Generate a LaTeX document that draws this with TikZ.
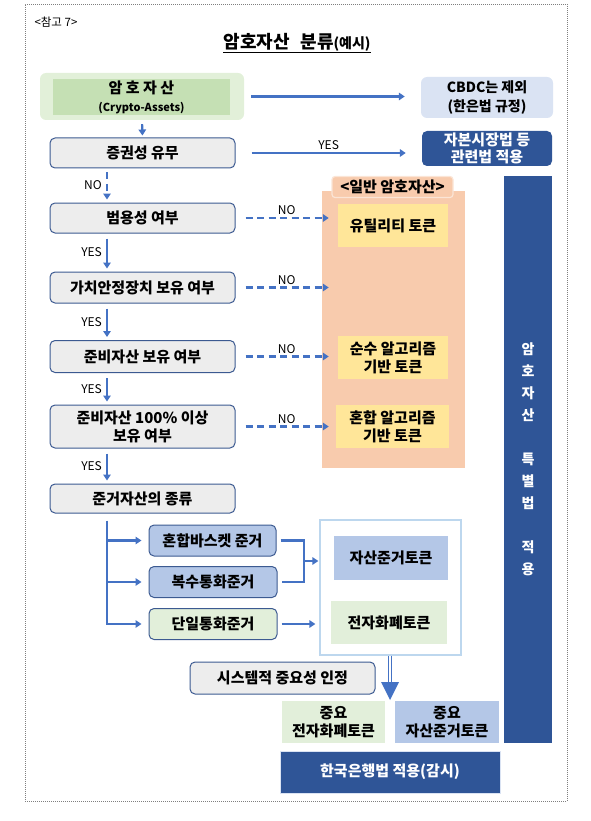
\documentclass[tikz,border=0pt]{standalone}
\usepackage{fontspec}
\setmainfont{Noto Sans CJK KR}
\usetikzlibrary{arrows.meta, positioning, calc}

\definecolor{framegray}{HTML}{7F7F7F}
\definecolor{arrowblue}{HTML}{4472C4}
\definecolor{edgeblue}{HTML}{3C5A91}
\definecolor{boxgray}{HTML}{EDEDED}
\definecolor{greenpale}{HTML}{E2F0D9}
\definecolor{greenmid}{HTML}{C5E0B4}
\definecolor{greenlight}{HTML}{E2EFDA}
\definecolor{bluepale}{HTML}{DAE3F3}
\definecolor{bluemid}{HTML}{B4C7E7}
\definecolor{navy}{HTML}{2F5597}
\definecolor{peach}{HTML}{F8CBAD}
\definecolor{peachrim}{HTML}{FBE5D6}
\definecolor{tokenyellow}{HTML}{FFE699}
\definecolor{groupline}{HTML}{BDD7EE}

\begin{document}
\begin{tikzpicture}[x=1pt, y=-1pt, >={Triangle[length=6pt, width=7.5pt]},
    txt/.style={font=\fontsize{15}{18}\selectfont\bfseries, align=center, inner sep=0pt},
    decision/.style={txt, draw=edgeblue, line width=1pt, fill=boxgray, rounded corners=5pt, minimum width=185pt},
    anchorbox/.style={txt, draw=edgeblue, line width=1pt, rounded corners=5pt, minimum width=128pt, minimum height=31pt},
    token/.style={txt, minimum width=110pt, minimum height=43pt},
    flow/.style={->, draw=arrowblue, line width=2.2pt},
    noflow/.style={flow, line width=2.4pt, dash pattern=on 7pt off 4.5pt},
    link/.style={draw=arrowblue, line width=2.2pt},
    yn/.style={font=\fontsize{12}{14}\selectfont, inner sep=2pt}]

    \useasboundingbox (0,0) rectangle (590,821);

    % -------------------------------------------------------------
    % frame and title
    % -------------------------------------------------------------
    \node[draw=framegray, line width=0.8pt, dash pattern=on 1pt off 1pt,
          minimum width=542pt, minimum height=797pt, inner sep=0pt] (frame) at (296,402.5) {};
    \node[anchor=west, font=\fontsize{11.5}{13}\selectfont] (tag) at (31,22) {<참고 7>};
    \node (title) at (297,43) {\fontsize{18}{21}\selectfont\bfseries\underline{암호자산\hspace{0.6em}분류{\fontsize{14}{17}\selectfont(예시)}}};

    % -------------------------------------------------------------
    % top row: crypto-assets, CBDC, securities
    % -------------------------------------------------------------
    \node[fill=greenpale, rounded corners=6pt, minimum width=204pt, minimum height=47pt] (cryptobg) at (142,96.5) {};
    \node[txt, fill=greenmid, minimum width=177pt, minimum height=36pt] (crypto) at (141.5,97)
        {암 호 자 산\\{\fontsize{11}{20}\selectfont(Crypto-Assets)}};
    \node[txt, fill=bluepale, rounded corners=6pt, minimum width=132pt, minimum height=41pt,
          font=\fontsize{14}{19}\selectfont\bfseries] (cbdc) at (487,97.5)
        {CBDC는 제외\\(한은법 규정)};
    \node[txt, fill=navy, text=white, rounded corners=5pt, minimum width=130pt, minimum height=35pt,
          font=\fontsize{15}{17}\selectfont\bfseries] (caplaw) at (487,148.5)
        {자본시장법 등\\관련법 적용};
    \node[decision, minimum height=30pt] (security) at (142.5,153) {증권성 유무};

    \draw[flow, shorten <=7pt, shorten >=16pt] (cryptobg.east) -- (cryptobg.east -| cbdc.west);
    \draw[flow, shorten <=4pt, shorten >=2pt] (cryptobg.south) -- (security.north);
    \draw[flow, shorten <=16pt, shorten >=16pt] (security.east) -- (security.east -| caplaw.west)
        node[yn, midway, above] {YES};

    % -------------------------------------------------------------
    % general crypto-assets and the special act bar
    % -------------------------------------------------------------
    \node[fill=peach, minimum width=143pt, minimum height=277pt] (general) at (393.5,329.5) {};
    \node[txt, fill=peach, draw=peachrim, line width=1.2pt, rounded corners=3pt,
          minimum width=121pt, minimum height=21pt] (genlabel) at (392.5,187) {<일반 암호자산>};
    \node[fill=navy, minimum width=48pt, minimum height=567pt] (special) at (528,459.5) {};
    \node[txt, text=white, font=\fontsize{14}{22}\selectfont\bfseries] (speciallbl) at (special.center)
        {암\\호\\자\\산\\[22pt]특\\별\\법\\[22pt]적\\용};

    \node[token, fill=tokenyellow] (utility) at (393,225.5) {유틸리티 토큰};
    \node[token, fill=tokenyellow] (pure) at (393,357.5) {순수 알고리즘\\기반 토큰};
    \node[token, fill=tokenyellow, minimum width=113pt] (hybrid) at (392.5,426.5) {혼합 알고리즘\\기반 토큰};

    % -------------------------------------------------------------
    % decision chain
    % -------------------------------------------------------------
    \coordinate (spine) at (107,0);
    \node[decision, minimum height=30pt] (purpose) at (142.5,218) {범용성 여부};
    \node[decision, minimum height=31pt] (peg) at (142.5,287.5) {가치안정장치 보유 여부};
    \node[decision, minimum height=32pt] (reserve) at (142.5,356.5) {준비자산 보유 여부};
    \node[decision, minimum height=43pt] (full) at (142.5,426.5) {준비자산 100\% 이상\\보유 여부};
    \node[decision, minimum height=29pt] (kind) at (142.5,498.5) {준거자산의 종류};

    \draw[noflow, shorten <=4pt, shorten >=3pt] (security.south -| spine) -- (purpose.north -| spine)
        node[yn, midway, left, xshift=-2pt] {NO};
    \draw[flow, shorten <=5pt, shorten >=3pt] (purpose.south -| spine) -- (peg.north -| spine)
        node[yn, midway, left, xshift=-2pt] {YES};
    \draw[flow, shorten <=5pt, shorten >=3pt] (peg.south -| spine) -- (reserve.north -| spine)
        node[yn, midway, left, xshift=-2pt] {YES};
    \draw[flow, shorten <=5pt, shorten >=3pt] (reserve.south -| spine) -- (full.north -| spine)
        node[yn, midway, left, xshift=-2pt] {YES};
    \draw[flow, shorten <=5pt, shorten >=3pt] (full.south -| spine) -- (kind.north -| spine)
        node[yn, midway, left, xshift=-2pt] {YES};

    \draw[noflow, shorten <=10pt, shorten >=9pt] (purpose.east) -- (purpose.east -| utility.west)
        node[yn, midway, above] {NO};
    \draw[noflow, shorten <=10pt, shorten >=9pt] (peg.east) -- (peg.east -| utility.west)
        node[yn, midway, above] {NO};
    \draw[noflow, shorten <=10pt, shorten >=9pt] (reserve.east) -- (reserve.east -| pure.west)
        node[yn, midway, above] {NO};
    \draw[noflow, shorten <=10pt, shorten >=9pt] (full.east) -- (full.east -| pure.west)
        node[yn, midway, above] {NO};

    % -------------------------------------------------------------
    % reference assets and stablecoin types
    % -------------------------------------------------------------
    \node[anchorbox, fill=bluemid, minimum width=127pt] (basket) at (212.5,540.5) {혼합바스켓 준거};
    \node[anchorbox, fill=bluemid] (multi) at (213,582) {복수통화준거};
    \node[anchorbox, fill=greenlight] (single) at (213,624) {단일통화준거};

    \node[draw=groupline, line width=1.2pt, minimum width=141pt, minimum height=135pt] (group) at (390.5,587.5) {};
    \node[txt, fill=bluemid, minimum width=114pt, minimum height=44pt] (abtoken) at (391,558) {자산준거토큰};
    \node[txt, fill=greenlight, minimum width=116pt, minimum height=43pt] (emoney) at (389,622.5) {전자화폐토큰};

    \draw[flow, shorten <=7pt, shorten >=7pt] (kind.south -| spine) |- (single.west);
    \draw[flow, shorten >=7pt] (basket.west -| spine) -- (basket.west);
    \draw[flow, shorten >=7pt] (multi.west -| spine) -- (multi.west);

    \coordinate (merge) at (304,561);
    \draw[link] ([xshift=4pt]basket.east) -| (merge) |- ([xshift=4pt]multi.east);
    \draw[flow, shorten >=1pt] (merge) -- (merge -| group.west);
    \draw[flow, shorten >=4pt] ([xshift=4pt]single.east) -- (single.east -| group.west);

    % -------------------------------------------------------------
    % systemic importance and Bank of Korea Act
    % -------------------------------------------------------------
    \node[decision, minimum height=32pt] (systemic) at (282.5,678) {시스템적 중요성 인정};
    \node[txt, fill=greenlight, minimum width=103pt, minimum height=42pt] (keyemoney) at (333.5,722) {중요\\전자화폐토큰};
    \node[txt, fill=bluemid, minimum width=104pt, minimum height=42pt] (keyabtoken) at (447,722) {중요\\자산준거토큰};
    \node[txt, fill=navy, draw=bluepale, line width=0.8pt, text=white, minimum width=220pt, minimum height=42pt] (bokact) at (390,772)
        {한국은행법 적용(감시)};

    \coordinate (bigtip) at (390,700);
    \draw[draw=arrowblue, line width=1.6pt, double=white, double distance=1.6pt]
        (group.south -| bigtip) -- ([yshift=17pt]bigtip);
    \fill[arrowblue] (bigtip) -- ++(-9,-18) -- ++(18,0) -- cycle;

\end{tikzpicture}
\end{document}
